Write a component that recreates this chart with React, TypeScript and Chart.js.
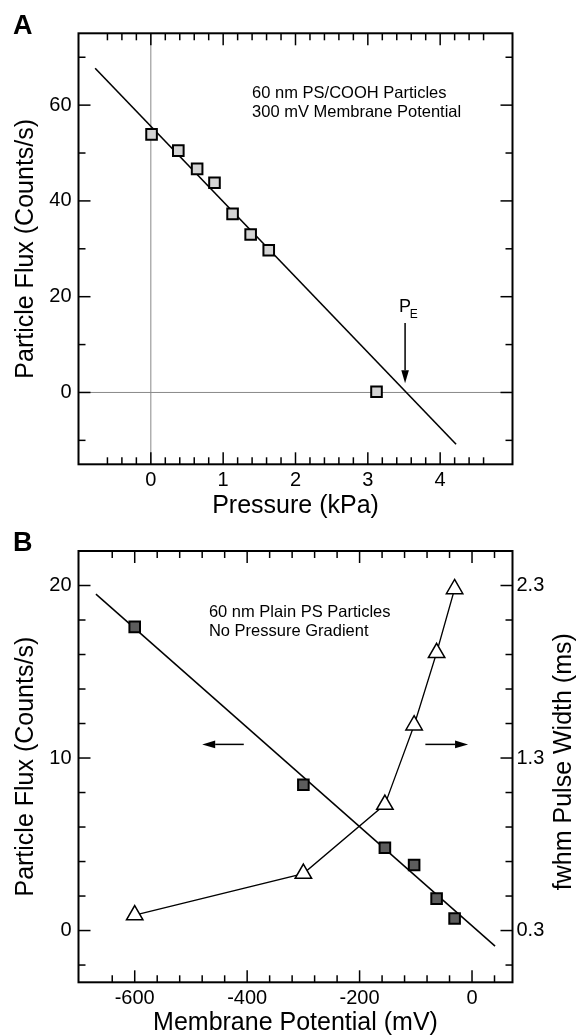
import React, { useEffect, useRef } from 'react';
import { Chart, registerables } from 'chart.js';

Chart.register(...registerables);

const FONT = "'Liberation Sans', Arial, Helvetica, sans-serif";

// ---------------- Panel A : flux vs pressure ----------------
const pressureKPa = [0.01, 0.38, 0.64, 0.88, 1.13, 1.38, 1.63, 3.12];
const fluxCOOH = [53.9, 50.5, 46.7, 43.8, 37.3, 33.0, 29.7, 0.15];
const fitPressure = [-0.77, 4.22];
const fitFluxA = [67.7, -10.8];
const pressureTicks = [-0.6, -0.4, -0.2, 0, 0.2, 0.4, 0.6, 0.8, 1, 1.2, 1.4, 1.6, 1.8, 2, 2.2, 2.4, 2.6, 2.8, 3, 3.2, 3.4, 3.6, 3.8, 4, 4.2, 4.4, 4.6];
const pressureLabels = [0, 1, 2, 3, 4];
const fluxTicksA = [-10, 0, 10, 20, 30, 40, 50, 60, 70];
const fluxLabelsA = [0, 20, 40, 60];
const peArrowX = 3.515;
const peArrowY = [14.5, 1.95];
const textA = ['60 nm PS/COOH Particles', '300 mV Membrane Potential'];

// ---------------- Panel B : flux & pulse width vs potential ----------------
const potentialMV = [-600, -300, -155, -103, -63, -31];
const fluxPlain = [17.6, 8.45, 4.8, 3.8, 1.85, 0.7];
const pulseWidthMs = [0.39, 0.63, 1.03, 1.49, 1.91, 2.28];
const fitPotential = [-669, 41];
const fitFluxB = [19.5, -0.9];
const potentialTicks = [-640, -600, -560, -520, -480, -440, -400, -360, -320, -280, -240, -200, -160, -120, -80, -40, 0, 40];
const potentialLabels = [-600, -400, -200, 0];
const fluxTicksB = [-2, 0, 2, 4, 6, 8, 10, 12, 14, 16, 18, 20];
const fluxLabelsB = [0, 10, 20];
const widthLabels = [0.3, 1.3, 2.3];
const textB = ['60 nm Plain PS Particles', 'No Pressure Gradient'];

const W = 578;
const H_A = 540;
const TOP_B = 518;
const H_B = 518;

function line(ctx: CanvasRenderingContext2D, x1: number, y1: number, x2: number, y2: number) {
  ctx.beginPath();
  ctx.moveTo(x1, y1);
  ctx.lineTo(x2, y2);
  ctx.stroke();
}

function arrow(ctx: CanvasRenderingContext2D, x1: number, y1: number, x2: number, y2: number, head = 12, half = 3.8) {
  const ang = Math.atan2(y2 - y1, x2 - x1);
  const bx = x2 - head * Math.cos(ang);
  const by = y2 - head * Math.sin(ang);
  line(ctx, x1, y1, bx, by);
  ctx.beginPath();
  ctx.moveTo(x2, y2);
  ctx.lineTo(bx + half * Math.sin(ang), by - half * Math.cos(ang));
  ctx.lineTo(bx - half * Math.sin(ang), by + half * Math.cos(ang));
  ctx.closePath();
  ctx.fill();
}

function framePlugin(xTicks: number[], xMajor: number[], yTicks: number[], yMajor: number[]) {
  return {
    id: 'frame',
    afterDatasetsDraw(chart: any) {
      const { ctx, chartArea } = chart;
      const { left, right, top, bottom } = chartArea;
      const xs = chart.scales.x;
      const ys = chart.scales.y;
      ctx.save();
      ctx.strokeStyle = '#000';
      ctx.lineWidth = 1.5;
      for (const v of xTicks) {
        const px = xs.getPixelForValue(v);
        const len = xMajor.includes(v) ? 12 : 7;
        line(ctx, px, bottom, px, bottom - len);
        line(ctx, px, top, px, top + len);
      }
      for (const v of yTicks) {
        const py = ys.getPixelForValue(v);
        const len = yMajor.includes(v) ? 12 : 7;
        line(ctx, left, py, left + len, py);
        line(ctx, right, py, right - len, py);
      }
      ctx.lineWidth = 2;
      ctx.strokeRect(left, top, right - left, bottom - top);
      ctx.restore();
    },
  };
}

const annotA = {
  id: 'annotA',
  afterDraw(chart: any) {
    const { ctx } = chart;
    const xs = chart.scales.x;
    const ys = chart.scales.y;
    ctx.save();
    ctx.fillStyle = '#000';
    ctx.strokeStyle = '#000';
    ctx.font = `bold 27px ${FONT}`;
    ctx.textAlign = 'left';
    ctx.textBaseline = 'alphabetic';
    ctx.fillText('A', 13, 34.3);
    ctx.font = `16.5px ${FONT}`;
    ctx.textBaseline = 'middle';
    ctx.fillText(textA[0], xs.getPixelForValue(1.4), ys.getPixelForValue(62.4));
    ctx.fillText(textA[1], xs.getPixelForValue(1.4), ys.getPixelForValue(58.4));
    // P_E label and arrow
    ctx.textBaseline = 'alphabetic';
    ctx.font = `18px ${FONT}`;
    ctx.fillText('P', xs.getPixelForValue(3.43), ys.getPixelForValue(16.9));
    ctx.font = `12px ${FONT}`;
    ctx.fillText('E', xs.getPixelForValue(3.58), ys.getPixelForValue(15.5));
    ctx.lineWidth = 1.5;
    const ax = xs.getPixelForValue(peArrowX);
    arrow(ctx, ax, ys.getPixelForValue(peArrowY[0]), ax, ys.getPixelForValue(peArrowY[1]), 13, 3.8);
    ctx.restore();
  },
};

const annotB = {
  id: 'annotB',
  afterDraw(chart: any) {
    const { ctx, chartArea } = chart;
    const xs = chart.scales.x;
    const ys = chart.scales.y;
    ctx.save();
    ctx.fillStyle = '#000';
    ctx.strokeStyle = '#000';
    ctx.font = `bold 27px ${FONT}`;
    ctx.textAlign = 'left';
    ctx.textBaseline = 'alphabetic';
    ctx.fillText('B', 13, 32.5);
    ctx.font = `16.5px ${FONT}`;
    ctx.textBaseline = 'middle';
    ctx.fillText(textB[0], xs.getPixelForValue(-468), ys.getPixelForValue(18.44));
    ctx.fillText(textB[1], xs.getPixelForValue(-468), ys.getPixelForValue(17.33));
    ctx.lineWidth = 1.5;
    const ay = ys.getPixelForValue(10.79);
    arrow(ctx, xs.getPixelForValue(-406), ay, xs.getPixelForValue(-480), ay, 13, 3.8);
    arrow(ctx, xs.getPixelForValue(-83), ay, xs.getPixelForValue(-7), ay, 13, 3.8);
    // right axis title, reading bottom-to-top
    ctx.font = `25px ${FONT}`;
    ctx.textAlign = 'center';
    ctx.textBaseline = 'middle';
    ctx.translate(564, (chartArea.top + chartArea.bottom) / 2 - 5);
    ctx.rotate(-Math.PI / 2);
    ctx.fillText('fwhm Pulse Width (ms)', 0, 0);
    ctx.restore();
  },
};

const tickFont = { family: FONT, size: 20 };
const titleFont = { family: FONT, size: 25, lineHeight: 1 };

function configA(): any {
  return {
    type: 'scatter',
    data: {
      datasets: [
        {
          data: pressureKPa.map((x, i) => ({ x, y: fluxCOOH[i] })),
          showLine: false,
          pointStyle: 'rect',
          pointRadius: 7.5,
          pointBackgroundColor: '#d4d4d4',
          pointBorderColor: '#000',
          pointBorderWidth: 2,
          order: 0,
        },
        {
          data: fitPressure.map((x, i) => ({ x, y: fitFluxA[i] })),
          showLine: true,
          borderColor: '#000',
          borderWidth: 1.6,
          pointRadius: 0,
          order: 1,
        },
        {
          data: [{ x: 0, y: -15 }, { x: 0, y: 75 }],
          showLine: true,
          borderColor: '#888',
          borderWidth: 1,
          pointRadius: 0,
          order: 2,
        },
        {
          data: [{ x: -1, y: 0 }, { x: 5, y: 0 }],
          showLine: true,
          borderColor: '#888',
          borderWidth: 1,
          pointRadius: 0,
          order: 2,
        },
      ],
    },
    options: {
      responsive: false,
      animation: false,
      devicePixelRatio: 1,
      events: [],
      layout: { padding: { left: 0, top: 33.3, right: 65.5, bottom: 0 }, autoPadding: false },
      plugins: { legend: { display: false }, tooltip: { enabled: false } },
      scales: {
        x: {
          type: 'linear',
          position: 'bottom',
          min: -1,
          max: 5,
          afterBuildTicks: (s: any) => { s.ticks = pressureLabels.map((v) => ({ value: v })); },
          afterFit: (s: any) => { s.height = H_A - 464.3; },
          grid: { display: false, drawTicks: false },
          border: { display: false },
          ticks: { color: '#000', font: tickFont, padding: 4, maxRotation: 0, autoSkip: false, callback: (v: any) => String(v) },
          title: { display: true, text: 'Pressure (kPa)', color: '#000', font: titleFont, padding: { top: 0, bottom: 21.7 } },
        },
        y: {
          type: 'linear',
          position: 'left',
          min: -15,
          max: 75,
          afterBuildTicks: (s: any) => { s.ticks = fluxLabelsA.map((v) => ({ value: v })); },
          afterFit: (s: any) => { s.width = 78.5; },
          grid: { display: false, drawTicks: false },
          border: { display: false },
          ticks: { color: '#000', font: tickFont, padding: 7, autoSkip: false, callback: (v: any) => String(v) },
          title: { display: true, text: 'Particle Flux (Counts/s)', color: '#000', font: titleFont, padding: { top: 13.3, bottom: 0 } },
        },
      },
    },
    plugins: [framePlugin(pressureTicks, pressureLabels, fluxTicksA, fluxLabelsA), annotA],
  };
}

function configB(): any {
  return {
    type: 'scatter',
    data: {
      datasets: [
        {
          data: potentialMV.map((x, i) => ({ x, y: fluxPlain[i] })),
          yAxisID: 'y',
          showLine: false,
          pointStyle: 'rect',
          pointRadius: 7.5,
          pointBackgroundColor: '#5c5c5c',
          pointBorderColor: '#000',
          pointBorderWidth: 2,
          order: 0,
        },
        {
          data: potentialMV.map((x, i) => ({ x, y: pulseWidthMs[i] })),
          yAxisID: 'y2',
          showLine: true,
          borderColor: '#000',
          borderWidth: 1.3,
          pointStyle: 'triangle',
          pointRadius: 9.5,
          pointBackgroundColor: '#fff',
          pointBorderColor: '#000',
          pointBorderWidth: 1.5,
          order: 1,
        },
        {
          data: fitPotential.map((x, i) => ({ x, y: fitFluxB[i] })),
          yAxisID: 'y',
          showLine: true,
          borderColor: '#000',
          borderWidth: 1.5,
          pointRadius: 0,
          order: 2,
        },
      ],
    },
    options: {
      responsive: false,
      animation: false,
      devicePixelRatio: 1,
      events: [],
      layout: { padding: { left: 0, top: 33, right: 0, bottom: 0 }, autoPadding: false },
      plugins: { legend: { display: false }, tooltip: { enabled: false } },
      scales: {
        x: {
          type: 'linear',
          position: 'bottom',
          min: -700,
          max: 72,
          afterBuildTicks: (s: any) => { s.ticks = potentialLabels.map((v) => ({ value: v })); },
          afterFit: (s: any) => { s.height = H_B - 464.3; },
          grid: { display: false, drawTicks: false },
          border: { display: false },
          ticks: { color: '#000', font: tickFont, padding: 4, maxRotation: 0, autoSkip: false, callback: (v: any) => String(v) },
          title: { display: true, text: 'Membrane Potential (mV)', color: '#000', font: titleFont, padding: { top: 0, bottom: 0.4 } },
        },
        y: {
          type: 'linear',
          position: 'left',
          min: -3,
          max: 22,
          afterBuildTicks: (s: any) => { s.ticks = fluxLabelsB.map((v) => ({ value: v })); },
          afterFit: (s: any) => { s.width = 78.5; },
          grid: { display: false, drawTicks: false },
          border: { display: false },
          ticks: { color: '#000', font: tickFont, padding: 7, autoSkip: false, callback: (v: any) => String(v) },
          title: { display: true, text: 'Particle Flux (Counts/s)', color: '#000', font: titleFont, padding: { top: 13.3, bottom: 0 } },
        },
        y2: {
          type: 'linear',
          position: 'right',
          min: 0,
          max: 2.5,
          afterBuildTicks: (s: any) => { s.ticks = widthLabels.map((v) => ({ value: v })); },
          afterFit: (s: any) => { s.width = W - 512.5; },
          grid: { display: false, drawTicks: false },
          border: { display: false },
          ticks: { color: '#000', font: tickFont, padding: 4, autoSkip: false, callback: (v: any) => Number(v).toFixed(1) },
          title: { display: false },
        },
      },
    },
    plugins: [framePlugin(potentialTicks, potentialLabels, fluxTicksB, fluxLabelsB), annotB],
  };
}

function Panel({ makeConfig, top, height }: { makeConfig: () => any; top: number; height: number }) {
  const ref = useRef<HTMLCanvasElement | null>(null);
  useEffect(() => {
    if (!ref.current) return;
    const chart = new Chart(ref.current, makeConfig());
    return () => chart.destroy();
  }, []);
  return (
    <canvas
      ref={ref}
      width={W}
      height={height}
      style={{ position: 'absolute', left: 0, top, width: W, height, display: 'block' }}
    />
  );
}

export default function App() {
  return (
    <div style={{ position: 'absolute', left: 0, top: 0, width: W, height: 1036, background: '#fff', overflow: 'hidden' }}>
      <Panel makeConfig={configA} top={0} height={H_A} />
      <Panel makeConfig={configB} top={TOP_B} height={H_B} />
    </div>
  );
}
